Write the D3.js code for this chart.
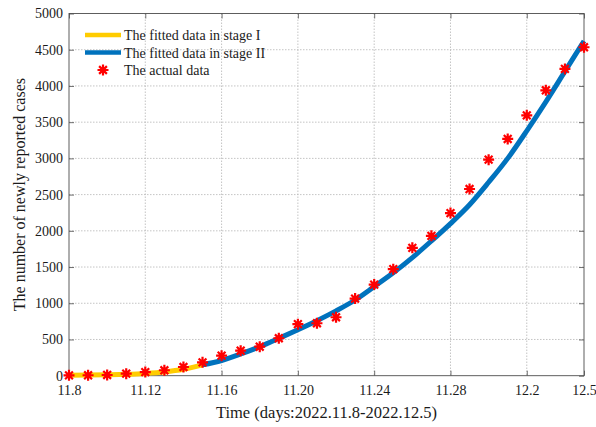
<!DOCTYPE html>
<html>
<head>
<meta charset="utf-8">
<script src="https://cdn.jsdelivr.net/npm/d3@7"></script>
<style>
  html, body { margin: 0; padding: 0; background: #fff; }
  svg { display: block; }
  text { font-family: "Liberation Serif", "Times New Roman", serif; fill: #1a1a1a; }
</style>
</head>
<body>
<svg id="chart" width="596" height="427"></svg>
<script>
// Day index (0 = 2022.11.8) for each observation
const days = [0,1,2,3,4,5,6,7,8,9,10,11,12,13,14,15,16,17,18,19,20,21,22,23,24,25,26,27];
// Reported new cases per day
const actual = [5,6,10,28,50,75,120,185,276,345,400,517,711,724,807,1064,1258,1471,1765,1931,2245,2577,2982,3268,3594,3940,4235,4534];

// Model output, stage I (days 0-7)
const stage1Days = [0,1,2,3,4,5,6,7];
const stage1Fit  = [5,8,13,20,32,52,88,150];

// Model output, stage II (days 7-27)
const stage2Days = [7,8,9,10,11,12,13,14,15,16,17,18,19,20,21,22,23,24,25,26,27];
const stage2Fit  = [150,210,300,400,515,635,760,895,1045,1230,1420,1630,1860,2100,2360,2670,3000,3380,3780,4200,4620];

// Axis ticks
const xTickDays   = [0,4,8,12,16,20,24,27];
const xTickLabels = ["11.8","11.12","11.16","11.20","11.24","11.28","12.2","12.5"];
const yTicks      = [0,500,1000,1500,2000,2500,3000,3500,4000,4500,5000];

const legendLabels = ["The fitted data in stage I","The fitted data in stage II","The actual data"];

const FONT = '"Liberation Serif", "Times New Roman", serif';
const svg = d3.select("#chart");
const L = 69, R = 584, T = 13.5, B = 375.7;

const x = d3.scaleLinear().domain([0, 27]).range([L, R]);
const y = d3.scaleLinear().domain([0, 5000]).range([B, T]);

const yellow = "#FFCC00", blue = "#0072BD", red = "#FF0000";

// grid
const grid = svg.append("g");
grid.selectAll("line.gx").data(xTickDays.slice(1, -1)).join("line")
  .attr("x1", d => x(d)).attr("x2", d => x(d)).attr("y1", T).attr("y2", B)
  .attr("stroke", "#b5b5b5").attr("stroke-width", 0.8).attr("stroke-dasharray", "1.5,1.5");
grid.selectAll("line.gy").data(yTicks.slice(1, -1)).join("line")
  .attr("x1", L).attr("x2", R).attr("y1", d => y(d)).attr("y2", d => y(d))
  .attr("stroke", "#b5b5b5").attr("stroke-width", 0.8).attr("stroke-dasharray", "1.5,1.5");

// axes (ticks point inward, mirrored on top/right)
const axisColor = "#4d4d4d";
const tickLen = 5;
function styleAxis(g, showLabels) {
  g.attr("font-family", FONT);
  g.select(".domain").remove();
  g.selectAll(".tick line").attr("stroke", axisColor).attr("stroke-width", 0.8);
  g.selectAll(".tick text").style("font-family", FONT).style("font-size", "14px").attr("fill", "#1a1a1a");
  if (!showLabels) g.selectAll(".tick text").remove();
}
const xb = svg.append("g").attr("transform", `translate(0,${B})`)
  .call(d3.axisBottom(x).tickValues(xTickDays).tickSizeInner(-tickLen).tickSizeOuter(0).tickPadding(9)
    .tickFormat((d, i) => xTickLabels[i]));
styleAxis(xb, true);
const xt = svg.append("g").attr("transform", `translate(0,${T})`)
  .call(d3.axisTop(x).tickValues(xTickDays).tickSizeInner(-tickLen).tickSizeOuter(0));
styleAxis(xt, false);
const yl = svg.append("g").attr("transform", `translate(${L},0)`)
  .call(d3.axisLeft(y).tickValues(yTicks).tickSizeInner(-tickLen).tickSizeOuter(0).tickPadding(6)
    .tickFormat(d3.format("d")));
styleAxis(yl, true);
const yr = svg.append("g").attr("transform", `translate(${R},0)`)
  .call(d3.axisRight(y).tickValues(yTicks).tickSizeInner(-tickLen).tickSizeOuter(0));
styleAxis(yr, false);

// frame
svg.append("rect").attr("x", L).attr("y", T).attr("width", R - L).attr("height", B - T)
  .attr("fill", "none").attr("stroke", axisColor).attr("stroke-width", 0.9);

// fitted curves
const line = d3.line().curve(d3.curveMonotoneX);
svg.append("path")
  .attr("d", line(stage1Days.map((d, i) => [x(d), y(stage1Fit[i])])))
  .attr("fill", "none").attr("stroke", yellow).attr("stroke-width", 5);
svg.append("path")
  .attr("d", line(stage2Days.map((d, i) => [x(d), y(stage2Fit[i])])))
  .attr("fill", "none").attr("stroke", blue).attr("stroke-width", 5);

// asterisk marker
const rS = 5.5;
function star(g, cx, cy) {
  const k = rS * Math.SQRT1_2;
  const p = `M${cx - rS},${cy}L${cx + rS},${cy}M${cx},${cy - rS}L${cx},${cy + rS}` +
            `M${cx - k},${cy - k}L${cx + k},${cy + k}M${cx - k},${cy + k}L${cx + k},${cy - k}`;
  g.append("path").attr("d", p).attr("stroke", red).attr("stroke-width", 2.2).attr("fill", "none");
}
const pts = svg.append("g");
days.forEach((d, i) => star(pts, x(d), y(actual[i])));

// legend
const lg = svg.append("g");
const rows = [35, 52.5, 70];
lg.append("line").attr("x1", 85).attr("x2", 121).attr("y1", rows[0]).attr("y2", rows[0])
  .attr("stroke", yellow).attr("stroke-width", 4.5);
lg.append("line").attr("x1", 85).attr("x2", 121).attr("y1", rows[1]).attr("y2", rows[1])
  .attr("stroke", blue).attr("stroke-width", 4.5);
star(lg, 103, rows[2]);
lg.selectAll("text").data(legendLabels).join("text")
  .attr("x", 124).attr("y", (d, i) => rows[i] + 5)
  .style("font-family", FONT).style("font-size", "14px").text(d => d);

// axis titles
svg.append("text").attr("x", (L + R) / 2).attr("y", 418).attr("text-anchor", "middle")
  .style("font-family", FONT).style("font-size", "16.5px").text("Time (days:2022.11.8-2022.12.5)");
svg.append("text").attr("transform", `translate(25,${(T + B) / 2}) rotate(-90)`)
  .attr("text-anchor", "middle").style("font-family", FONT).style("font-size", "16px")
  .text("The number of newly reported cases");
</script>
</body>
</html>
